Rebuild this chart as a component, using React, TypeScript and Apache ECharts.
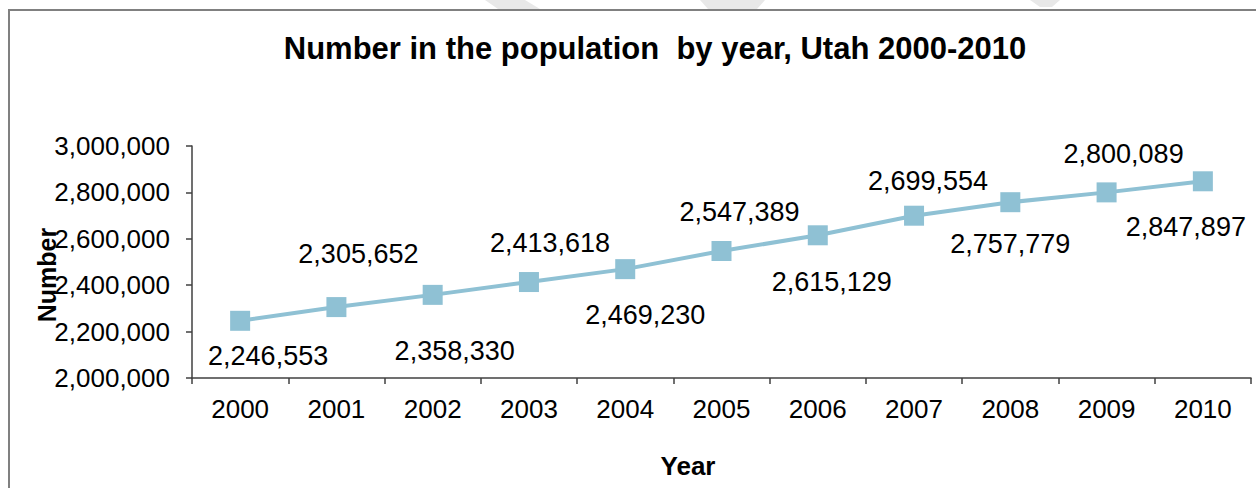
import React, { useEffect, useRef } from "react";
import * as echarts from "echarts";

const years = ["2000", "2001", "2002", "2003", "2004", "2005", "2006", "2007", "2008", "2009", "2010"];
const population = [2246553, 2305652, 2358330, 2413618, 2469230, 2547389, 2615129, 2699554, 2757779, 2800089, 2847897];
const yMin = 2000000;
const yMax = 3000000;
const yInterval = 200000;
const titleText = "Number in the population  by year, Utah 2000-2010";
const xName = "Year";
const yName = "Number";
// label offsets (dx, dy) relative to each point
const labelOffsets: number[][] = [
  [28, 35], [22, -53], [22, 56], [21, -39], [20, 46], [18, -39],
  [14, 47], [14, -35], [0, 42], [17, -38], [-17, 46],
];

const FONT = '"Liberation Sans", Arial, sans-serif';
const LINE_COLOR = "#8fc1d4";

export default function App() {
  const ref = useRef<HTMLDivElement>(null);
  useEffect(() => {
    document.body.style.margin = "0";
    const chart = echarts.init(ref.current!, null, { renderer: "svg" });
    const fmt = (v: number) => v.toLocaleString("en-US");
    chart.setOption({
      animation: false,
      backgroundColor: "#ffffff",
      grid: { left: 192, right: 5, top: 146, bottom: 110, containLabel: false },
      xAxis: {
        type: "category",
        data: years,
        boundaryGap: true,
        axisLine: { show: true, lineStyle: { color: "#404040", width: 1.5 } },
        axisTick: { show: true, alignWithLabel: false, length: 6, lineStyle: { color: "#404040", width: 1.5 } },
        axisLabel: { color: "#000", fontFamily: FONT, fontSize: 26, margin: 18 },
        splitLine: { show: false },
      },
      yAxis: {
        type: "value",
        min: yMin,
        max: yMax,
        interval: yInterval,
        axisLine: { show: true, lineStyle: { color: "#404040", width: 1.5 } },
        axisTick: { show: true, length: 6, lineStyle: { color: "#404040", width: 1.5 } },
        axisLabel: { color: "#000", fontFamily: FONT, fontSize: 26, margin: 22, formatter: (v: number) => fmt(v) },
        splitLine: { show: false },
      },
      series: [
        {
          type: "line",
          data: population.map((v, i) => ({
            value: v,
            label: { offset: labelOffsets[i] },
          })),
          lineStyle: { color: LINE_COLOR, width: 4 },
          itemStyle: { color: LINE_COLOR },
          symbol: "rect",
          symbolSize: 20,
          showAllSymbol: true,
          label: {
            show: true,
            position: "inside",
            color: "#000",
            fontFamily: FONT,
            fontSize: 27,
            formatter: (p: any) => fmt(p.value),
          },
          emphasis: { disabled: true },
        },
      ],
      graphic: [
        {
          type: "polygon",
          silent: true,
          shape: { points: [[485, 0], [525, 0], [540, 9], [498, 9]] },
          style: { fill: "#e8e8e8" },
        },
        {
          type: "polygon",
          silent: true,
          shape: { points: [[700, 0], [765, 0], [757, 9], [708, 9]] },
          style: { fill: "#e8e8e8" },
        },
        {
          type: "polygon",
          silent: true,
          shape: { points: [[1030, 0], [1060, 0], [1052, 7], [1040, 7]] },
          style: { fill: "#e8e8e8" },
        },
        {
          type: "rect",
          silent: true,
          shape: { x: 9, y: 10, width: 1320, height: 600 },
          style: { fill: "none", stroke: "#808080", lineWidth: 2 },
        },
        {
          type: "text",
          silent: true,
          x: 655,
          y: 48,
          style: {
            text: titleText,
            fontFamily: FONT,
            fontWeight: "bold",
            fontSize: 31,
            fill: "#000",
            align: "center",
            verticalAlign: "middle",
          },
        },
        {
          type: "text",
          silent: true,
          x: 688,
          y: 466,
          style: {
            text: xName,
            fontFamily: FONT,
            fontWeight: "bold",
            fontSize: 26,
            fill: "#000",
            align: "center",
            verticalAlign: "middle",
          },
        },
        {
          type: "text",
          silent: true,
          x: 47,
          y: 275,
          rotation: Math.PI / 2,
          style: {
            text: yName,
            fontFamily: FONT,
            fontWeight: "bold",
            fontSize: 25,
            fill: "#000",
            align: "center",
            verticalAlign: "middle",
          },
        },
      ],
    });
    return () => chart.dispose();
  }, []);
  return <div ref={ref} style={{ width: 1256, height: 488 }} />;
}
